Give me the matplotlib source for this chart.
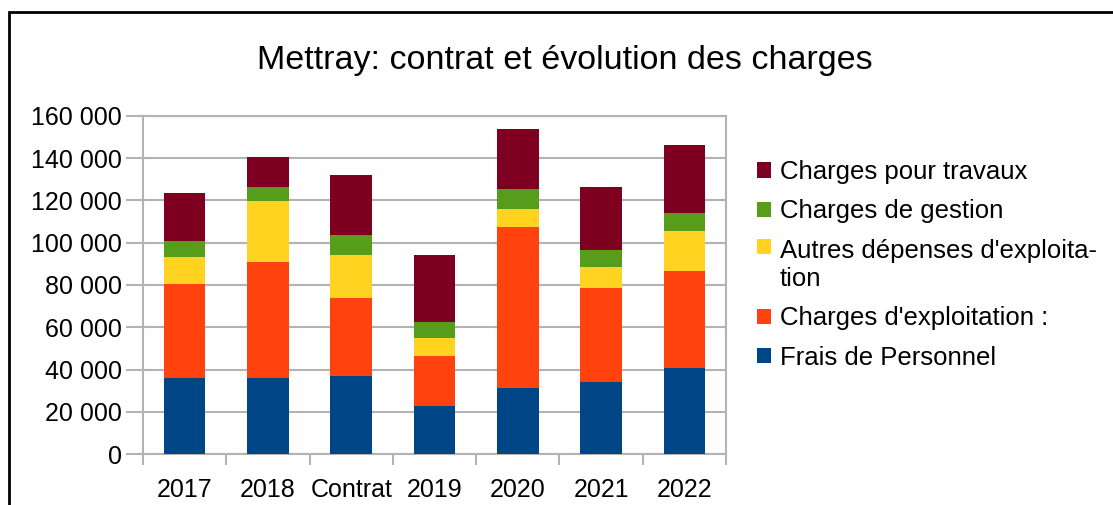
import numpy as np
import matplotlib.pyplot as plt
from matplotlib.patches import Rectangle
from matplotlib.ticker import FuncFormatter

plt.rcParams['font.family'] = ['Liberation Sans', 'DejaVu Sans']

# categories and series (bottom to top of stack)
categories = ["2017", "2018", "Contrat", "2019", "2020", "2021", "2022"]
frais_personnel = [36100, 36100, 37000, 22800, 31300, 34000, 40800]
charges_exploitation = [44600, 55000, 37000, 23700, 76000, 44800, 45600]
autres_depenses = [12500, 28600, 20000, 8400, 8500, 9500, 19000]
charges_gestion = [7400, 6500, 9500, 7700, 9500, 8500, 8500]
charges_travaux = [22800, 14300, 28400, 31400, 28500, 29400, 32400]

series = [
    ("Frais de Personnel", frais_personnel, "#004586"),
    ("Charges d'exploitation :", charges_exploitation, "#ff420e"),
    ("Autres dépenses d'exploita-\ntion", autres_depenses, "#ffd320"),
    ("Charges de gestion", charges_gestion, "#579d1c"),
    ("Charges pour travaux", charges_travaux, "#7e0021"),
]

fig = plt.figure(figsize=(11.13, 5.05), dpi=100)
ax = fig.add_axes([143 / 1113, 51 / 505, 583 / 1113, 338 / 505])

x = np.arange(len(categories))
bottom = np.zeros(len(categories))
for name, vals, col in series:
    ax.bar(x, vals, 0.5, bottom=bottom, color=col, label=name, zorder=3)
    bottom += np.array(vals)

ax.set_xlim(-0.5, len(categories) - 0.5)
ax.set_ylim(0, 160000)
ax.set_yticks(np.arange(0, 160001, 20000))
ax.yaxis.set_major_formatter(FuncFormatter(lambda v, p: f"{int(v):,}".replace(",", " ")))
ax.set_xticks(x)
ax.set_xticklabels(categories)
ax.set_xticks(np.arange(-0.5, len(categories)), minor=True)
ax.tick_params(axis='x', which='major', length=0, pad=17, labelsize=18)
ax.tick_params(axis='x', which='minor', length=8, width=1.5, color="#b3b3b3")
ax.tick_params(axis='y', length=12, width=1.5, color="#b3b3b3", pad=3, labelsize=18)
ax.grid(axis='y', color="#b3b3b3", lw=1.5, zorder=0)
for s in ax.spines.values():
    s.set_color("#b3b3b3")
    s.set_linewidth(1.5)

fig.text(565 / 1113, 1 - 60 / 505, "Mettray: contrat et évolution des charges",
         ha='center', va='center', fontsize=24.5)

handles, labels = ax.get_legend_handles_labels()
leg = fig.legend(handles[::-1], labels[::-1], loc='upper left',
                 bbox_to_anchor=(757 / 1113, 1 - 160 / 505), frameon=False,
                 fontsize=18.5, handlelength=0.55, handleheight=0.55,
                 handletextpad=0.35, labelspacing=0.6, borderpad=0, borderaxespad=0)
for t in leg.get_texts():
    t.set_linespacing(1.22)
for col in leg._legend_handle_box.get_children():
    for row in col.get_children():
        kids = row.get_children()
        if len(kids) == 2 and "\n" in kids[1].get_text():
            row.align = "top"

fig.patches.append(Rectangle((9 / 1113, -0.1), 2, 1 - 12 / 505 + 0.1,
                             transform=fig.transFigure, fill=False,
                             edgecolor="black", lw=2))

fig.savefig("out.png", dpi=100)
